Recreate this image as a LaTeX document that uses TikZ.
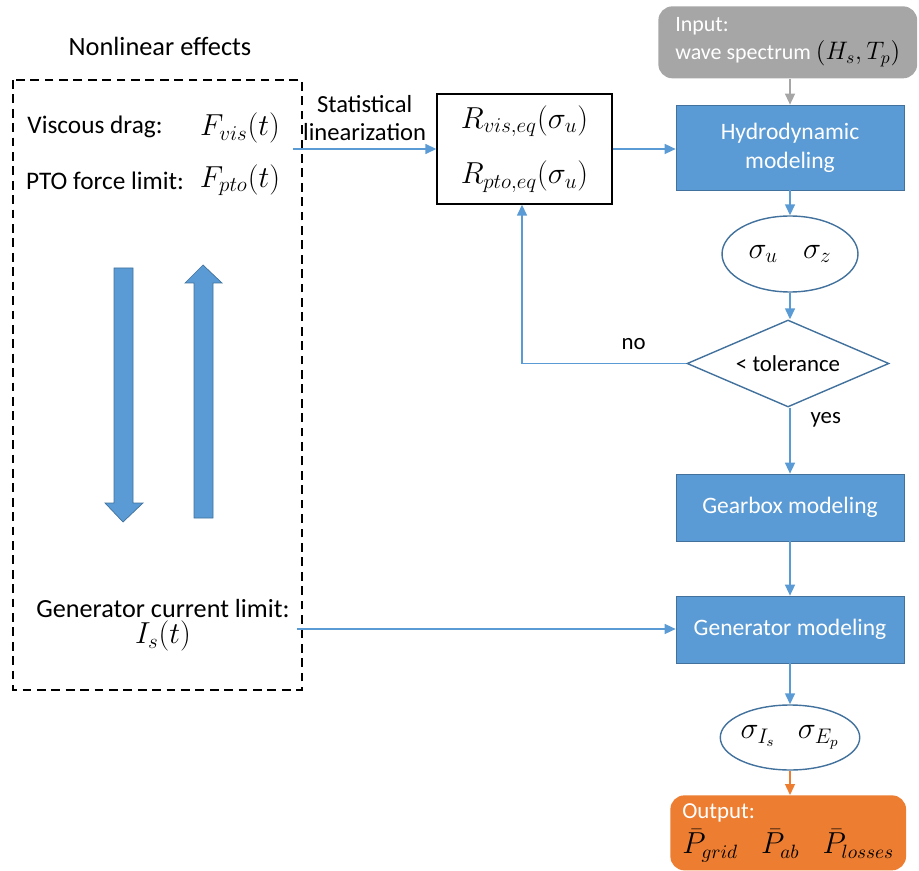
\documentclass[tikz,border=0pt]{standalone}
\usepackage{fontspec}
\setmainfont{Carlito}
\usetikzlibrary{arrows.meta,positioning,shapes.geometric}
\definecolor{sky}{RGB}{91,155,213}
\definecolor{skyedge}{RGB}{65,113,156}
\definecolor{stone}{RGB}{166,166,166}
\definecolor{tangerine}{RGB}{237,125,49}
\tikzset{
  >={Triangle[length=2.2mm,width=2mm]},
  txt/.style={font=\fontsize{14.4}{17}\selectfont},
  lbl/.style={font=\fontsize{13}{15}\selectfont,text=black},
  mth/.style={font=\fontsize{16.5}{19}\selectfont},
  stage/.style={draw=skyedge,fill=sky,text=white,minimum width=45.6mm,
    font=\fontsize{13.4}{16.5}\selectfont,align=center},
  oval/.style={ellipse,draw=skyedge,thick,inner sep=0pt,font=\fontsize{17}{19}\selectfont},
  link/.style={->,draw=sky,thick},
  block arrow/.style={fill=sky,draw=skyedge,thin},
}
\begin{document}
\begin{tikzpicture}[x=0.02cm,y=-0.02cm]
  \useasboundingbox (0,0) rectangle (919,871);
  % nonlinear effects
  \node[font=\fontsize{15}{18}\selectfont] (title) at (160,46) {Nonlinear effects};
  \draw[dash pattern=on 5pt off 3.2pt,line width=1.1pt] (13,80) rectangle (302,690);
  \node[txt] (visc) at (95,127) {Viscous drag:};
  \node[mth] (fvis) at (240,128) {$F_{vis}(t)$};
  \node[txt] (ptol) at (105,181) {PTO force limit:};
  \node[mth] (fpto) at (240,180) {$F_{pto}(t)$};
  \fill[block arrow] (114,268) -- (133,268) -- (133,503) -- (143,503) -- (123,522)
    -- (105,503) -- (114,503) -- cycle;
  \fill[block arrow] (194,518) -- (213,518) -- (213,283) -- (222,283) -- (203,265)
    -- (185,283) -- (194,283) -- cycle;
  \node[font=\fontsize{14.9}{18}\selectfont] (genl) at (163,609) {Generator current limit:};
  \node[mth] (is) at (163,636) {$I_s(t)$};
  \coordinate (vout) at (293,149);
  \coordinate (gout) at (297,629);
  % equivalent damping
  \node[draw,thick,minimum width=35mm,minimum height=22mm,align=center,
    font=\fontsize{17.5}{31.8}\selectfont] (req) at (524.5,149)
    {$R_{vis,eq}(\sigma_u)$\\$R_{pto,eq}(\sigma_u)$};
  % flow chart
  \node[fill=stone,text=white,rounded corners=8pt,anchor=north west,minimum width=50.4mm,
    minimum height=14.4mm,inner xsep=3.4mm,align=left,
    font=\fontsize{12.5}{15.9}\selectfont] (input) at (658,6)
    {Input:\\wave spectrum \textcolor{black}{\fontsize{14.5}{15.9}\selectfont$(H_s,T_p)$}};
  \node[stage,minimum height=17mm] (hydro) at (790,147.5) {Hydrodynamic\\modeling};
  \node[oval,minimum width=27.2mm,minimum height=15.2mm] (sig1) at (790,254)
    {$\sigma_u\hspace{5mm}\sigma_z$};
  \node[diamond,draw=skyedge,thick,aspect=2.3,minimum width=40.4mm,minimum height=17.4mm,
    inner sep=0pt,lbl] (tol) at (788,363.5) {< tolerance};
  \node[stage,minimum height=13.4mm] (gear) at (790,507.5) {Gearbox modeling};
  \node[stage,minimum height=13.4mm] (gen) at (790,629.5) {Generator modeling};
  \node[oval,minimum width=26.8mm,minimum height=13mm] (sig2) at (790,737.5)
    {$\sigma_{I_s}\hspace{4.5mm}\sigma_{E_p}$};
  \node[fill=tangerine,rounded corners=8pt,anchor=north west,minimum width=45.8mm,
    minimum height=15mm,inner xsep=2.4mm,align=left,
    font=\fontsize{16}{19}\selectfont] (output) at (670,795)
    {\textcolor{white}{\fontsize{13}{16}\selectfont Output:}\\[1pt]
     $\bar{P}_{grid}\hspace{4.6mm}\bar{P}_{ab}\hspace{4.6mm}\bar{P}_{losses}$};
  % connectors
  \draw[link] (vout) -- node[above,align=center,font=\fontsize{14}{16}\selectfont,
    text=black,yshift=1pt]{Statistical\\linearization} (vout -| req.west);
  \draw[link] (req.east) -- (hydro.west |- req.east);
  \draw[->,draw=stone,thick] (input.south -| hydro.north) -- (hydro.north);
  \draw[link] (hydro) -- (sig1);
  \draw[link] (sig1) -- (tol.north -| sig1.south);
  \draw[link] (tol.west) -| node[pos=0.16,above=4pt,lbl]{no} (req.south -| 522,0);
  \draw[link] (tol.south -| gear.north) -- node[pos=0.18,right=8pt,lbl]{yes} (gear.north);
  \draw[link] (gear) -- (gen);
  \draw[link] (gout) -- (gout -| gen.west);
  \draw[link] (gen) -- (sig2);
  \draw[->,draw=tangerine,thick] (sig2) -- (output.north -| sig2.south);
\end{tikzpicture}
\end{document}
